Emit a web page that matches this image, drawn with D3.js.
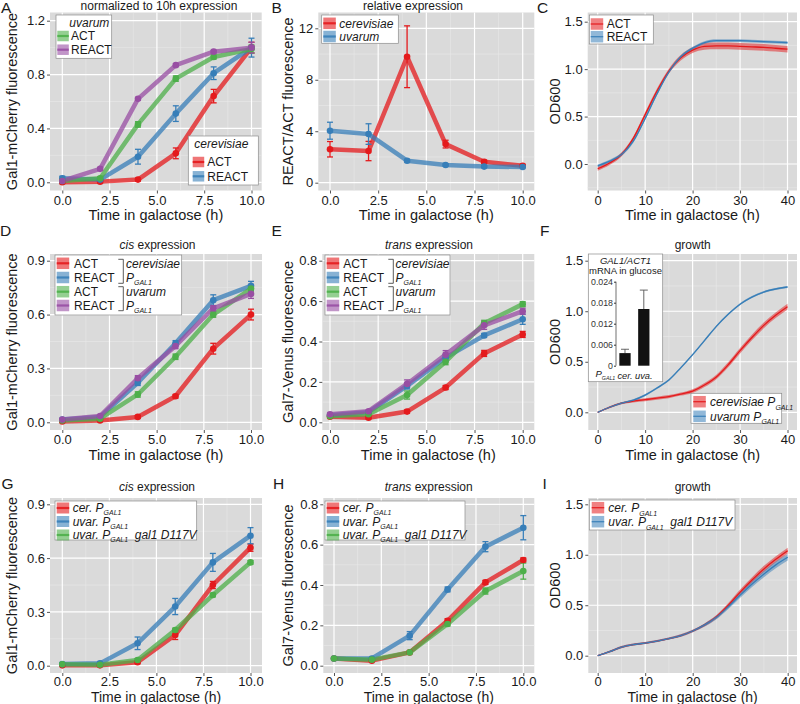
<!DOCTYPE html>
<html><head><meta charset="utf-8">
<script src="https://cdn.jsdelivr.net/npm/d3@7"></script>
<style>
body{margin:0;background:#fff;}
svg{font-family:"Liberation Sans",Arial,Helvetica,sans-serif;}
text{white-space:pre;}
</style></head><body>
<svg id="fig" width="800" height="704"></svg>
<script>
// ---------------- DATA ----------------
const hours = [0, 2, 4, 6, 8, 10];
const hourTicks = [0, 2.5, 5, 7.5, 10];
const hourMinor = [1.25, 3.75, 6.25, 8.75];
const growthT = [0, 2.5, 5, 7.5, 10, 12.5, 15, 17.5, 20, 22.5, 25, 27.5, 30, 32.5, 35, 37.5, 40];
const growthTicks = [0, 10, 20, 30, 40];
const growthMinor = [5, 15, 25, 35];

// A: normalized to 10h expression
const A_cerACT = [0.00, 0.005, 0.02, 0.215, 0.64, 1.00];
const A_cerACT_err = [0.01, 0.01, 0.01, 0.04, 0.05, 0.04];
const A_cerREACT = [0.03, 0.02, 0.19, 0.51, 0.81, 1.00];
const A_cerREACT_err = [0.015, 0.01, 0.055, 0.058, 0.047, 0.07];
const A_uvaACT = [0.01, 0.03, 0.43, 0.77, 0.93, 0.99];
const A_uvaACT_err = [0.01, 0.01, 0.02, 0.02, 0.015, 0.03];
const A_uvaREACT = [0.01, 0.10, 0.62, 0.87, 0.97, 1.00];
const A_uvaREACT_err = [0.01, 0.01, 0.01, 0.01, 0.01, 0.04];
const A_yTicks = [0, 0.4, 0.8, 1.2];
const A_yMinor = [0.2, 0.6, 1.0];

// B: relative expression
const B_cer = [2.6, 2.46, 9.79, 3.0, 1.63, 1.32];
const B_cer_err = [0.6, 0.75, 2.4, 0.3, 0.12, 0.1];
const B_uva = [4.04, 3.78, 1.71, 1.38, 1.25, 1.22];
const B_uva_err = [0.66, 0.8, 0.1, 0.08, 0.06, 0.05];
const B_yTicks = [0, 4, 8, 12];
const B_yMinor = [2, 6, 10];

// C: growth ACT / REACT
const C_ACT = [-0.05, 0.01, 0.10, 0.27, 0.52, 0.77, 0.98, 1.12, 1.20, 1.24, 1.245, 1.245, 1.24, 1.235, 1.23, 1.22, 1.21];
const C_ACT_se = [0.02, 0.02, 0.02, 0.02, 0.025, 0.025, 0.025, 0.03, 0.03, 0.035, 0.035, 0.035, 0.035, 0.035, 0.035, 0.035, 0.035];
const C_REACT = [-0.02, 0.03, 0.10, 0.24, 0.48, 0.74, 0.97, 1.13, 1.22, 1.28, 1.30, 1.30, 1.30, 1.295, 1.29, 1.285, 1.28];
const C_REACT_se = [0.015, 0.015, 0.015, 0.015, 0.015, 0.015, 0.015, 0.015, 0.015, 0.015, 0.015, 0.015, 0.015, 0.015, 0.015, 0.015, 0.015];
const OD_yTicks = [0, 0.5, 1.0, 1.5];
const C_yMinor = [-0.25, 0.25, 0.75, 1.25];
const OD_yMinor = [0.25, 0.75, 1.25];

// D: cis expression
const D_cerACT = [0.005, 0.01, 0.03, 0.145, 0.41, 0.60];
const D_cerACT_err = [0.005, 0.005, 0.008, 0.01, 0.03, 0.03];
const D_cerREACT = [0.015, 0.03, 0.22, 0.44, 0.68, 0.76];
const D_cerREACT_err = [0.005, 0.005, 0.015, 0.015, 0.03, 0.025];
const D_uvaACT = [0.01, 0.02, 0.155, 0.365, 0.60, 0.745];
const D_uvaACT_err = [0.005, 0.005, 0.015, 0.015, 0.015, 0.015];
const D_uvaREACT = [0.015, 0.035, 0.245, 0.425, 0.635, 0.715];
const D_uvaREACT_err = [0.005, 0.005, 0.015, 0.015, 0.015, 0.025];
const cis_yTicks = [0, 0.3, 0.6, 0.9];
const cis_yMinor = [0.15, 0.45, 0.75];

// E: trans expression
const E_cerACT = [0.028, 0.023, 0.053, 0.172, 0.341, 0.435];
const E_cerACT_err = [0.005, 0.005, 0.008, 0.01, 0.015, 0.015];
const E_cerREACT = [0.035, 0.05, 0.18, 0.32, 0.43, 0.51];
const E_cerREACT_err = [0.005, 0.005, 0.015, 0.015, 0.01, 0.025];
const E_uvaACT = [0.03, 0.04, 0.135, 0.30, 0.49, 0.585];
const E_uvaACT_err = [0.005, 0.005, 0.02, 0.015, 0.015, 0.012];
const E_uvaREACT = [0.04, 0.055, 0.19, 0.335, 0.48, 0.55];
const E_uvaREACT_err = [0.005, 0.005, 0.02, 0.02, 0.02, 0.015];
const trans_yTicks = [0, 0.2, 0.4, 0.6, 0.8];
const trans_yMinor = [0.1, 0.3, 0.5, 0.7];

// F: growth cerevisiae / uvarum promoter
const F_cer = [0.0, 0.05, 0.09, 0.11, 0.125, 0.14, 0.155, 0.18, 0.21, 0.27, 0.35, 0.47, 0.61, 0.74, 0.86, 0.96, 1.045];
const F_cer_se = [0.005, 0.01, 0.01, 0.012, 0.015, 0.015, 0.015, 0.015, 0.018, 0.02, 0.022, 0.025, 0.027, 0.028, 0.028, 0.028, 0.028];
const F_uva = [0.0, 0.05, 0.09, 0.12, 0.17, 0.24, 0.32, 0.44, 0.57, 0.71, 0.85, 0.97, 1.07, 1.14, 1.19, 1.22, 1.24];
const F_uva_se = [0.005, 0.008, 0.01, 0.01, 0.01, 0.01, 0.01, 0.01, 0.01, 0.01, 0.01, 0.01, 0.01, 0.01, 0.01, 0.01, 0.01];
// F inset: GAL1/ACT1 mRNA in glucose
const insetCats = ["cer.", "uva."];
const insetVals = [0.0036, 0.0162];
const insetErr = [0.0011, 0.0054];
const insetTicks = [0, 0.006, 0.012, 0.018, 0.024];

// G: cis expression, gal1 D117V
const G_cer = [0.002, 0.002, 0.019, 0.171, 0.45, 0.658];
const G_cer_err = [0.003, 0.003, 0.008, 0.025, 0.02, 0.02];
const G_uvar = [0.009, 0.013, 0.125, 0.33, 0.576, 0.725];
const G_uvar_err = [0.005, 0.005, 0.035, 0.045, 0.05, 0.045];
const G_d117v = [0.008, 0.005, 0.032, 0.199, 0.394, 0.576];
const G_d117v_err = [0.005, 0.005, 0.008, 0.01, 0.01, 0.01];

// H: trans expression, gal1 D117V
const H_cer = [0.036, 0.025, 0.066, 0.223, 0.413, 0.524];
const H_cer_err = [0.004, 0.004, 0.005, 0.01, 0.01, 0.01];
const H_uvar = [0.036, 0.036, 0.149, 0.378, 0.59, 0.684];
const H_uvar_err = [0.004, 0.004, 0.02, 0.012, 0.025, 0.06];
const H_d117v = [0.036, 0.03, 0.066, 0.207, 0.37, 0.469];
const H_d117v_err = [0.004, 0.004, 0.005, 0.01, 0.015, 0.04];

// I: growth
const I_cer = [0.0, 0.04, 0.085, 0.11, 0.125, 0.145, 0.17, 0.2, 0.245, 0.305, 0.385, 0.5, 0.63, 0.75, 0.86, 0.955, 1.04];
const I_cer_se = [0.005, 0.008, 0.01, 0.01, 0.01, 0.01, 0.01, 0.012, 0.012, 0.015, 0.018, 0.022, 0.026, 0.028, 0.03, 0.03, 0.03];
const I_uva = [0.0, 0.04, 0.085, 0.11, 0.125, 0.145, 0.17, 0.2, 0.245, 0.305, 0.38, 0.485, 0.60, 0.71, 0.81, 0.90, 0.975];
const I_uva_se = [0.005, 0.008, 0.01, 0.01, 0.01, 0.01, 0.01, 0.012, 0.012, 0.015, 0.018, 0.022, 0.026, 0.03, 0.032, 0.033, 0.033];

// ---------------- STYLE ----------------
const RED = "#E41A1C", BLUE = "#377EB8", GREEN = "#4DAF4A", PURPLE = "#984EA3";
const BG = "#DADADA";
const FONT = "'Liberation Sans', Arial, Helvetica, sans-serif";
const TXT = "#1a1a1a";
const f1 = d3.format(".1f"), fd = d3.format("d");

const svg = d3.select("#fig");

function rich(g, x, y, segs, size, anchor, subScale, subDy) {
  const t = g.append("text").attr("x", x).attr("y", y).attr("font-size", size)
    .attr("fill", TXT).attr("text-anchor", anchor || "start");
  let shift = 0;
  segs.forEach(s => {
    const ts = t.append("tspan").text(s.t);
    if (s.i) ts.attr("font-style", "italic");
    const target = s.sub ? size * (subDy || 0.3) : 0;
    if (target !== shift) { ts.attr("dy", target - shift); shift = target; }
    if (s.sub) ts.attr("font-size", size * (subScale || 0.58));
  });
  return t;
}

function makePanel(c) {
  const g = svg.append("g");
  g.append("rect").attr("x", c.L).attr("y", c.T).attr("width", c.R - c.L).attr("height", c.B - c.T).attr("fill", BG);
  const x = d3.scaleLinear().domain(c.xd).range(c.xr);
  const y = d3.scaleLinear().domain(c.yd).range(c.yr);
  const inX = v => x(v) >= c.L && x(v) <= c.R;
  const inY = v => y(v) >= c.T && y(v) <= c.B;
  c.xm.filter(inX).forEach(v => g.append("line").attr("x1", x(v)).attr("x2", x(v)).attr("y1", c.T).attr("y2", c.B).attr("stroke", "#EAEAEA").attr("stroke-width", 0.6));
  c.ym.filter(inY).forEach(v => g.append("line").attr("y1", y(v)).attr("y2", y(v)).attr("x1", c.L).attr("x2", c.R).attr("stroke", "#EAEAEA").attr("stroke-width", 0.6));
  c.xt.filter(inX).forEach(v => g.append("line").attr("x1", x(v)).attr("x2", x(v)).attr("y1", c.T).attr("y2", c.B).attr("stroke", "#fff").attr("stroke-width", 1.2));
  c.yt.filter(inY).forEach(v => g.append("line").attr("y1", y(v)).attr("y2", y(v)).attr("x1", c.L).attr("x2", c.R).attr("stroke", "#fff").attr("stroke-width", 1.2));
  const ya = g.append("g").attr("transform", `translate(${c.L},0)`)
    .call(d3.axisLeft(y).tickValues(c.yt).tickFormat(c.yf).tickSize(3).tickPadding(2));
  const xa = g.append("g").attr("transform", `translate(0,${c.B})`)
    .call(d3.axisBottom(x).tickValues(c.xt).tickFormat(c.xf).tickSize(3).tickPadding(c.xPad == null ? 2 : c.xPad));
  [ya, xa].forEach(a => {
    a.attr("font-size", 13).attr("font-family", FONT);
    a.select(".domain").remove();
    a.selectAll("line").attr("stroke", "#555");
    a.selectAll("text").attr("fill", TXT);
  });
  g.append("text").attr("x", (c.L + c.R) / 2).attr("y", c.xTitleY).attr("text-anchor", "middle")
    .attr("font-size", c.xTitleSize || 14.5).attr("fill", TXT).text("Time in galactose (h)");
  g.append("text").attr("transform", `translate(${c.yTitleX},${(c.T + c.B) / 2}) rotate(-90)`)
    .attr("text-anchor", "middle").attr("font-size", 14.5).attr("fill", TXT).text(c.yTitle);
  if (c.title) rich(g, c.titleX, c.titleY, c.title, 12, "middle");
  g.append("text").attr("x", c.letterX).attr("y", c.letterY).attr("font-size", 15.5).attr("fill", TXT).text(c.letter);
  return { g, x, y };
}

function drawExpr(p, series) {
  const line = d3.line().x((d, i) => p.x(hours[i])).y(d => p.y(d));
  series.forEach(s => {
    p.g.append("path").datum(s.v).attr("d", line).attr("fill", "none").attr("stroke", s.c)
      .attr("stroke-width", 4.5).attr("stroke-opacity", 0.75).attr("stroke-linejoin", "round");
  });
  series.forEach(s => {
    s.v.forEach((v, i) => {
      const xx = p.x(hours[i]), y0 = p.y(v - s.e[i]), y1 = p.y(v + s.e[i]);
      p.g.append("line").attr("x1", xx).attr("x2", xx).attr("y1", y0).attr("y2", y1).attr("stroke", s.c).attr("stroke-width", 1.3);
      [y0, y1].forEach(yy => p.g.append("line").attr("x1", xx - 3).attr("x2", xx + 3).attr("y1", yy).attr("y2", yy).attr("stroke", s.c).attr("stroke-width", 1.3));
    });
  });
  series.forEach(s => {
    s.v.forEach((v, i) => {
      p.g.append("circle").attr("cx", p.x(hours[i])).attr("cy", p.y(v)).attr("r", 3.3).attr("fill", s.c);
    });
  });
}

function drawGrowth(p, series) {
  series.forEach(s => {
    const area = d3.area().x((d, i) => p.x(growthT[i])).y0((d, i) => p.y(d - s.e[i])).y1((d, i) => p.y(d + s.e[i])).curve(d3.curveMonotoneX);
    p.g.append("path").datum(s.v).attr("d", area).attr("fill", s.c).attr("fill-opacity", 0.5);
  });
  series.forEach(s => {
    const line = d3.line().x((d, i) => p.x(growthT[i])).y(d => p.y(d)).curve(d3.curveMonotoneX);
    p.g.append("path").datum(s.v).attr("d", line).attr("fill", "none").attr("stroke", s.c).attr("stroke-width", 1.3);
  });
}

function drawLegend(L, growth) {
  const g = svg.append("g");
  g.append("rect").attr("x", L.x).attr("y", L.y).attr("width", L.w).attr("height", L.h)
    .attr("fill", "#fff").attr("stroke", "#8c8c8c").attr("stroke-width", 0.7);
  if (L.title) rich(g, L.titleX, L.titleY, [{ t: L.title, i: 1 }], 12);
  const kw = L.kw || 12.5, kh = L.kh || 11.5;
  L.items.forEach((it, k) => {
    const cy = L.rows[k];
    g.append("rect").attr("x", L.keyX).attr("y", cy - kh / 2).attr("width", kw).attr("height", kh)
      .attr("fill", it.c).attr("fill-opacity", growth ? 0.55 : 0.6);
    g.append("line").attr("x1", L.keyX).attr("x2", L.keyX + kw).attr("y1", cy).attr("y2", cy)
      .attr("stroke", it.c).attr("stroke-width", growth ? 1.3 : 2.2).attr("stroke-opacity", 0.9);
    rich(g, L.textX, cy + 4.2, it.label, 12, "start", null, L.subDy);
  });
  return g;
}

function brackets(g, bx0, bx1, spans, labels, lx, rows) {
  spans.forEach(sp => {
    g.append("path").attr("d", `M${bx0},${sp[0]}H${bx1}V${sp[1]}H${bx0}`).attr("fill", "none").attr("stroke", "#333").attr("stroke-width", 0.8);
  });
  labels.forEach((lab, k) => rich(g, lx, rows[k] + 4.2, lab, 12));
}

// ---------------- LABELS ----------------
const PGAL = [{ t: "P", i: 1 }, { t: "GAL1", i: 1, sub: 1 }];
const lblACT = [{ t: "ACT" }], lblREACT = [{ t: "REACT" }];
const lblCer = [{ t: "cer. ", i: 1 }].concat(PGAL);
const lblUvar = [{ t: "uvar. ", i: 1 }].concat(PGAL);
const lblD117 = [{ t: "uvar. ", i: 1 }].concat(PGAL).concat([{ t: "  gal1 D117V", i: 1 }]);

// ---------------- ROW 1 ----------------
const pA = makePanel({ L: 50, R: 261.7, T: 12.5, B: 190.5, xd: [0, 10], xr: [62.3, 251.5], yd: [0, 1.2], yr: [182.3, 20.7],
  xt: hourTicks, xm: hourMinor, yt: A_yTicks, ym: A_yMinor, xf: f1, yf: f1, xTitleY: 220, yTitleX: 17,
  yTitle: "Gal1-mCherry fluorescence", title: [{ t: "normalized to 10h expression" }], titleX: 159, titleY: 10, letter: "A", letterX: 1, letterY: 13 });
drawExpr(pA, [{ v: A_cerACT, e: A_cerACT_err, c: RED }, { v: A_cerREACT, e: A_cerREACT_err, c: BLUE },
  { v: A_uvaACT, e: A_uvaACT_err, c: GREEN }, { v: A_uvaREACT, e: A_uvaREACT_err, c: PURPLE }]);
drawLegend({ x: 56, y: 15, w: 55.7, h: 43.3, title: "uvarum", titleX: 69.3, titleY: 26.8, keyX: 57.3, textX: 71, rows: [36, 49.7], kw: 11.5, kh: 10.5,
  items: [{ c: GREEN, label: lblACT }, { c: PURPLE, label: lblREACT }] });
drawLegend({ x: 188.3, y: 136, w: 70, h: 49, title: "cerevisiae", titleX: 194.3, titleY: 147.5, keyX: 192.7, textX: 207.3, rows: [162, 176.3], kw: 11.5, kh: 10.5,
  items: [{ c: RED, label: lblACT }, { c: BLUE, label: lblREACT }] });

const pB = makePanel({ L: 318.3, R: 534.3, T: 12.5, B: 190.5, xd: [0, 10], xr: [330, 522.7], yd: [0, 12], yr: [182.7, 28.3],
  xt: hourTicks, xm: hourMinor, yt: B_yTicks, ym: B_yMinor, xf: f1, yf: fd, xTitleY: 220, yTitleX: 293,
  yTitle: "REACT/ACT fluorescence", title: [{ t: "relative expression" }], titleX: 413, titleY: 10, letter: "B", letterX: 271.5, letterY: 13 });
drawExpr(pB, [{ v: B_cer, e: B_cer_err, c: RED }, { v: B_uva, e: B_uva_err, c: BLUE }]);
drawLegend({ x: 321.7, y: 15, w: 76.6, h: 28.3, keyX: 323.3, textX: 339.3, rows: [23.3, 36.5],
  items: [{ c: RED, label: [{ t: "cerevisiae", i: 1 }] }, { c: BLUE, label: [{ t: "uvarum", i: 1 }] }] });

const pC = makePanel({ L: 587.7, R: 797, T: 12.5, B: 190.5, xd: [0, 40], xr: [597.7, 787.5], yd: [0, 1.5], yr: [164, 21.7],
  xt: growthTicks, xm: growthMinor, yt: OD_yTicks, ym: C_yMinor, xf: fd, yf: f1, xTitleY: 220, yTitleX: 560,
  yTitle: "OD600", title: null, letter: "C", letterX: 537, letterY: 13 });
drawGrowth(pC, [{ v: C_ACT, e: C_ACT_se, c: RED }, { v: C_REACT, e: C_REACT_se, c: BLUE }]);
drawLegend({ x: 589.3, y: 15, w: 64, h: 29, keyX: 590.7, textX: 606.7, rows: [24, 36.7],
  items: [{ c: RED, label: lblACT }, { c: BLUE, label: lblREACT }] }, true);

// ---------------- ROW 2 ----------------
const pD = makePanel({ L: 50, R: 262, T: 254, B: 430, xd: [0, 10], xr: [62.3, 251], yd: [0, 0.9], yr: [422.3, 260.7],
  xt: hourTicks, xm: hourMinor, yt: cis_yTicks, ym: cis_yMinor, xf: f1, yf: f1, xTitleY: 460, yTitleX: 17,
  yTitle: "Gal1-mCherry fluorescence", title: [{ t: "cis", i: 1 }, { t: " expression" }], titleX: 157.5, titleY: 249, letter: "D", letterX: 0, letterY: 235.5 });
drawExpr(pD, [{ v: D_cerACT, e: D_cerACT_err, c: RED }, { v: D_cerREACT, e: D_cerREACT_err, c: BLUE },
  { v: D_uvaACT, e: D_uvaACT_err, c: GREEN }, { v: D_uvaREACT, e: D_uvaREACT_err, c: PURPLE }]);
const rowsDE = [263.3, 277.5, 291.7, 305.5];
const legD = drawLegend({ x: 55, y: 255, w: 126.7, h: 60, keyX: 56.7, textX: 74, rows: rowsDE,
  items: [{ c: RED, label: lblACT }, { c: BLUE, label: lblREACT }, { c: GREEN, label: lblACT }, { c: PURPLE, label: lblREACT }] });
brackets(legD, 118.3, 123.3, [[259.3, 283.3], [286.7, 310.7]],
  [[{ t: "cerevisiae", i: 1 }], PGAL, [{ t: "uvarum", i: 1 }], PGAL], 126, rowsDE);

const pE = makePanel({ L: 322.3, R: 534.3, T: 254, B: 430, xd: [0, 10], xr: [330, 522.7], yd: [0, 0.8], yr: [422.3, 260.7],
  xt: hourTicks, xm: hourMinor, yt: trans_yTicks, ym: trans_yMinor, xf: f1, yf: f1, xTitleY: 460, yTitleX: 293,
  yTitle: "Gal7-Venus fluorescence", title: [{ t: "trans", i: 1 }, { t: " expression" }], titleX: 429, titleY: 249, letter: "E", letterX: 271.5, letterY: 235.5 });
drawExpr(pE, [{ v: E_cerACT, e: E_cerACT_err, c: RED }, { v: E_cerREACT, e: E_cerREACT_err, c: BLUE },
  { v: E_uvaACT, e: E_uvaACT_err, c: GREEN }, { v: E_uvaREACT, e: E_uvaREACT_err, c: PURPLE }]);
const legE = drawLegend({ x: 325, y: 255, w: 125, h: 60, keyX: 326.7, textX: 343.3, rows: rowsDE,
  items: [{ c: RED, label: lblACT }, { c: BLUE, label: lblREACT }, { c: GREEN, label: lblACT }, { c: PURPLE, label: lblREACT }] });
brackets(legE, 388.3, 393.3, [[259.3, 283.3], [286.7, 310.7]],
  [[{ t: "cerevisiae", i: 1 }], PGAL, [{ t: "uvarum", i: 1 }], PGAL], 395.5, rowsDE);

const pF = makePanel({ L: 588.3, R: 797, T: 254, B: 430, xd: [0, 40], xr: [597.7, 787.5], yd: [0, 1.5], yr: [412.3, 260.7],
  xt: growthTicks, xm: growthMinor, yt: OD_yTicks, ym: OD_yMinor, xf: fd, yf: f1, xTitleY: 460, yTitleX: 560,
  yTitle: "OD600", title: [{ t: "growth" }], titleX: 692.7, titleY: 249, letter: "F", letterX: 540, letterY: 235.5 });
drawGrowth(pF, [{ v: F_cer, e: F_cer_se, c: RED }, { v: F_uva, e: F_uva_se, c: BLUE }]);
drawLegend({ x: 691, y: 393.3, w: 90.7, h: 30, keyX: 693.3, textX: 710, rows: [401.7, 416.3],
  items: [{ c: RED, label: [{ t: "cerevisiae ", i: 1 }].concat(PGAL) }, { c: BLUE, label: [{ t: "uvarum ", i: 1 }].concat(PGAL) }] }, true);

// inset in F
(function () {
  const g = svg.append("g");
  g.append("rect").attr("x", 588.3).attr("y", 254).attr("width", 74.4).attr("height", 127.7)
    .attr("fill", "#fff").attr("stroke", "#8c8c8c").attr("stroke-width", 0.7);
  rich(g, 625.5, 263.5, [{ t: "GAL1/ACT1", i: 1 }], 9.5, "middle");
  rich(g, 625.5, 274, [{ t: "mRNA in glucose" }], 9.5, "middle");
  const y = d3.scaleLinear().domain([0, 0.024]).range([365.7, 281.7]);
  const x = d3.scaleBand().domain(insetCats).range([616, 652.8]).paddingInner(0.4).paddingOuter(0.178);
  const ax = g.append("g").attr("transform", "translate(616,0)")
    .call(d3.axisLeft(y).tickValues(insetTicks).tickFormat(d => d === 0 ? "0" : d3.format(".3f")(d)).tickSize(2).tickPadding(1));
  ax.attr("font-size", 8.8).attr("font-family", FONT);
  ax.select(".domain").attr("stroke", "#333").attr("stroke-width", 0.7).attr("d", "M0,281.7V365.7");
  ax.selectAll("line").attr("stroke", "#333");
  ax.selectAll("text").attr("fill", "#333");
  insetCats.forEach((c, i) => {
    const cx = x(c) + x.bandwidth() / 2;
    g.append("line").attr("x1", cx).attr("x2", cx).attr("y1", y(insetVals[i])).attr("y2", y(insetVals[i] + insetErr[i])).attr("stroke", "#555").attr("stroke-width", 0.9);
    g.append("line").attr("x1", cx - 4).attr("x2", cx + 4).attr("y1", y(insetVals[i] + insetErr[i])).attr("y2", y(insetVals[i] + insetErr[i])).attr("stroke", "#555").attr("stroke-width", 0.9);
    g.append("rect").attr("x", x(c)).attr("y", y(insetVals[i])).attr("width", x.bandwidth()).attr("height", y(0) - y(insetVals[i])).attr("fill", "#111");
    rich(g, cx, 378.5, [{ t: c, i: 1 }], 9.3, "middle");
  });
  rich(g, 595.5, 376.5, [{ t: "P", i: 1 }, { t: "GAL1", i: 1, sub: 1 }], 9.5, "start", 0.55, 0.36);
})();

// ---------------- ROW 3 ----------------
const pG = makePanel({ L: 50, R: 262, T: 498, B: 673, xd: [0, 10], xr: [62.3, 250.5], yd: [0, 0.9], yr: [665.7, 504.3],
  xt: hourTicks, xm: hourMinor, yt: cis_yTicks, ym: cis_yMinor, xf: f1, yf: f1, xPad: 1, xTitleY: 701.5, xTitleSize: 14, yTitleX: 17,
  yTitle: "Gal1-mCherry fluorescence", title: [{ t: "cis", i: 1 }, { t: " expression" }], titleX: 157, titleY: 490.5, letter: "G", letterX: 1.5, letterY: 488.5 });
drawExpr(pG, [{ v: G_cer, e: G_cer_err, c: RED }, { v: G_uvar, e: G_uvar_err, c: BLUE }, { v: G_d117v, e: G_d117v_err, c: GREEN }]);
drawLegend({ x: 55, y: 501, w: 141.7, h: 39, keyX: 56.7, textX: 72.7, rows: [508, 521.5, 535], kh: 11, subDy: 0.25,
  items: [{ c: RED, label: lblCer }, { c: BLUE, label: lblUvar }, { c: GREEN, label: lblD117 }] });

const pH = makePanel({ L: 323.3, R: 534.3, T: 498, B: 673, xd: [0, 10], xr: [334, 523.3], yd: [0, 0.8], yr: [665.7, 504.3],
  xt: hourTicks, xm: hourMinor, yt: trans_yTicks, ym: trans_yMinor, xf: f1, yf: f1, xPad: 1, xTitleY: 701.5, xTitleSize: 14, yTitleX: 293,
  yTitle: "Gal7-Venus fluorescence", title: [{ t: "trans", i: 1 }, { t: " expression" }], titleX: 428.7, titleY: 490.5, letter: "H", letterX: 273, letterY: 488.5 });
drawExpr(pH, [{ v: H_cer, e: H_cer_err, c: RED }, { v: H_uvar, e: H_uvar_err, c: BLUE }, { v: H_d117v, e: H_d117v_err, c: GREEN }]);
drawLegend({ x: 325, y: 501, w: 140, h: 39, keyX: 326.7, textX: 342.7, rows: [508, 521.5, 535], kh: 11, subDy: 0.25,
  items: [{ c: RED, label: lblCer }, { c: BLUE, label: lblUvar }, { c: GREEN, label: lblD117 }] });

const pI = makePanel({ L: 588.3, R: 797, T: 498, B: 673, xd: [0, 40], xr: [597.7, 787.7], yd: [0, 1.5], yr: [655.7, 504.3],
  xt: growthTicks, xm: growthMinor, yt: OD_yTicks, ym: OD_yMinor, xf: fd, yf: f1, xPad: 1, xTitleY: 701.5, xTitleSize: 14, yTitleX: 560,
  yTitle: "OD600", title: [{ t: "growth" }], titleX: 692.7, titleY: 490.5, letter: "I", letterX: 542.5, letterY: 488.5 });
drawGrowth(pI, [{ v: I_cer, e: I_cer_se, c: RED }, { v: I_uva, e: I_uva_se, c: BLUE }]);
drawLegend({ x: 589.3, y: 500, w: 145.7, h: 30, keyX: 591.7, textX: 608.3, rows: [507.7, 521.7],
  items: [{ c: RED, label: lblCer }, { c: BLUE, label: lblD117 }] }, true);
</script></body></html>
